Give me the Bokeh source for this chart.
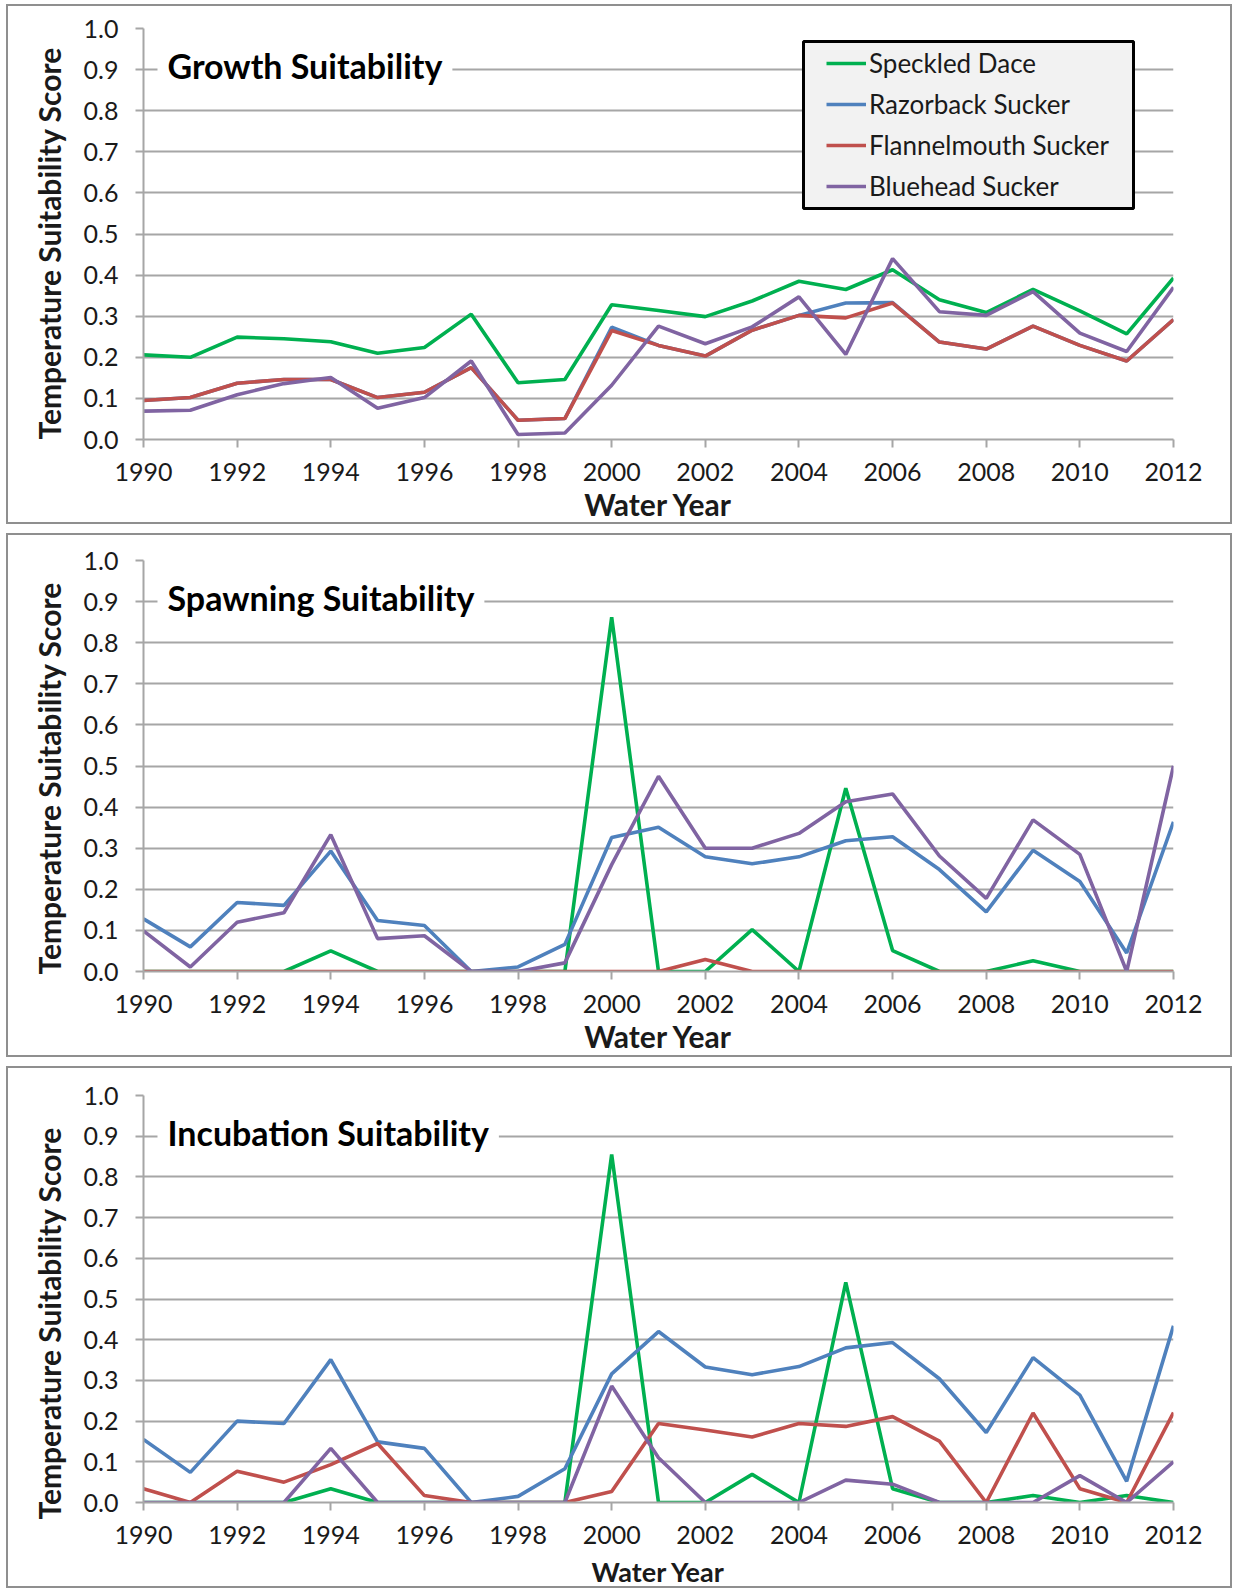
from bokeh.plotting import figure
from bokeh.models import (Range1d, FixedTicker, PrintfTickFormatter, Label, Legend, LegendItem,
                          BoxAnnotation, Title)
from bokeh.layouts import column
from bokeh.embed import file_html
from bokeh.resources import INLINE

years = list(range(1990, 2013))
x_ticks = list(range(1990, 2013, 2))
y_ticks = [0.0, 0.1, 0.2, 0.3, 0.4, 0.5, 0.6, 0.7, 0.8, 0.9, 1.0]

species = ["Speckled Dace", "Razorback Sucker", "Flannelmouth Sucker", "Bluehead Sucker"]
colors = ["#00B050", "#4F81BD", "#C0504D", "#8064A2"]

# Growth suitability
growth_dace = [0.206, 0.200, 0.249, 0.245, 0.238, 0.210, 0.224, 0.305, 0.138, 0.146,
               0.328, 0.314, 0.299, 0.337, 0.385, 0.365, 0.413, 0.340, 0.309, 0.365,
               0.313, 0.257, 0.393]
growth_razorback = [0.095, 0.102, 0.137, 0.146, 0.146, 0.102, 0.115, 0.175, 0.047, 0.051,
                    0.273, 0.229, 0.203, 0.266, 0.302, 0.332, 0.333, 0.237, 0.220, 0.276,
                    0.229, 0.191, 0.292]
growth_flannelmouth = [0.095, 0.102, 0.137, 0.146, 0.146, 0.102, 0.115, 0.175, 0.047, 0.051,
                       0.265, 0.229, 0.203, 0.266, 0.302, 0.296, 0.332, 0.237, 0.220, 0.276,
                       0.229, 0.191, 0.292]
growth_bluehead = [0.069, 0.071, 0.109, 0.136, 0.151, 0.076, 0.102, 0.191, 0.012, 0.016,
                   0.132, 0.276, 0.233, 0.274, 0.347, 0.207, 0.440, 0.311, 0.302, 0.360,
                   0.259, 0.214, 0.370]

# Spawning suitability
spawn_dace = [0.0, 0.0, 0.0, 0.0, 0.050, 0.0, 0.0, 0.0, 0.0, 0.0,
              0.862, 0.0, 0.0, 0.102, 0.0, 0.446, 0.051, 0.0, 0.0, 0.026,
              0.0, 0.0, 0.0]
spawn_razorback = [0.128, 0.060, 0.168, 0.161, 0.293, 0.124, 0.112, 0.0, 0.011, 0.066,
                   0.326, 0.351, 0.279, 0.262, 0.279, 0.318, 0.328, 0.248, 0.145, 0.295,
                   0.219, 0.045, 0.364]
spawn_flannelmouth = [0.0, 0.0, 0.0, 0.0, 0.0, 0.0, 0.0, 0.0, 0.0, 0.0,
                      0.0, 0.0, 0.029, 0.0, 0.0, 0.0, 0.0, 0.0, 0.0, 0.0,
                      0.0, 0.0, 0.0]
spawn_bluehead = [0.099, 0.011, 0.120, 0.143, 0.333, 0.080, 0.087, 0.0, 0.0, 0.021,
                  0.260, 0.475, 0.300, 0.300, 0.336, 0.413, 0.432, 0.281, 0.178, 0.369,
                  0.285, 0.0, 0.500]

# Incubation suitability
incub_dace = [0.0, 0.0, 0.0, 0.0, 0.034, 0.0, 0.0, 0.0, 0.0, 0.0,
              0.855, 0.0, 0.0, 0.069, 0.0, 0.541, 0.034, 0.0, 0.0, 0.017,
              0.0, 0.017, 0.0]
incub_razorback = [0.155, 0.074, 0.200, 0.194, 0.351, 0.149, 0.133, 0.0, 0.015, 0.083,
                   0.316, 0.420, 0.333, 0.314, 0.334, 0.380, 0.393, 0.304, 0.172, 0.356,
                   0.264, 0.052, 0.434]
incub_flannelmouth = [0.034, 0.0, 0.077, 0.050, 0.093, 0.145, 0.017, 0.0, 0.0, 0.0,
                      0.027, 0.194, 0.178, 0.161, 0.194, 0.187, 0.211, 0.151, 0.0, 0.220,
                      0.034, 0.0, 0.221]
incub_bluehead = [0.0, 0.0, 0.0, 0.0, 0.133, 0.0, 0.0, 0.0, 0.0, 0.0,
                  0.286, 0.110, 0.0, 0.0, 0.0, 0.055, 0.045, 0.0, 0.0, 0.0,
                  0.066, 0.0, 0.100]

panel_titles = ["Growth Suitability", "Spawning Suitability", "Incubation Suitability"]
y_titles = ["Temperature Suitability Score", "Temperature Suitability Score",
            "Temperature  Suitability Score"]
x_title = "Water Year"

panels = [
    [growth_dace, growth_razorback, growth_flannelmouth, growth_bluehead],
    [spawn_dace, spawn_razorback, spawn_flannelmouth, spawn_bluehead],
    [incub_dace, incub_razorback, incub_flannelmouth, incub_bluehead],
]

FONT = "Lato"
GRID = "#A6A6A6"
TXT = "#1a1a1a"

heights = [520, 524, 522]
borders_top = [22, 25, 27]
ytitle_offsets = [0, -3, -17]
xtitle_sizes = ["30px", "30px", "27px"]
xtitle_standoffs = [2, 2, 8]
FRAME_H = 411


def make_panel(i):
    p = figure(width=1226, height=heights[i], output_backend="svg", toolbar_location=None,
               x_range=Range1d(1990, 2012), y_range=Range1d(0, 1.0),
               min_border_left=135, min_border_right=61,
               min_border_top=borders_top[i],
               min_border_bottom=heights[i] - borders_top[i] - FRAME_H,
               background_fill_color="white", border_fill_color="white")
    p.outline_line_color = None
    p.styles = {"border": "2px solid #8f8f8f", "box-sizing": "border-box"}

    p.xaxis.ticker = FixedTicker(ticks=x_ticks)
    p.yaxis.ticker = FixedTicker(ticks=y_ticks)
    p.yaxis.formatter = PrintfTickFormatter(format="%.1f")
    for ax in (p.xaxis[0], p.yaxis[0]):
        ax.axis_line_color = GRID
        ax.axis_line_width = 2
        ax.major_tick_line_color = GRID
        ax.major_tick_line_width = 2
        ax.major_tick_in = 0
        ax.major_tick_out = 8
        ax.minor_tick_line_color = None
        ax.major_label_text_font = FONT
        ax.major_label_text_font_size = "25px"
        ax.major_label_text_color = TXT
        ax.axis_label_text_font = FONT
        ax.axis_label_text_font_style = "bold"
        ax.axis_label_text_color = TXT
    p.xaxis.major_label_standoff = 15
    p.yaxis.major_label_standoff = 17
    p.xaxis.axis_label = x_title
    p.xaxis.axis_label_text_font_size = xtitle_sizes[i]
    p.xaxis.axis_label_standoff = xtitle_standoffs[i]

    yt = Title(text=y_titles[i], align="left", offset=ytitle_offsets[i],
               text_font=FONT, text_font_style="bold", text_font_size="30px",
               text_color=TXT, standoff=28)
    p.add_layout(yt, "left")

    p.xgrid.grid_line_color = None
    p.ygrid.grid_line_color = GRID
    p.ygrid.grid_line_width = 2

    renderers = []
    for vals, col in zip(panels[i], colors):
        r = p.line(years, vals, line_color=col, line_width=3.6)
        renderers.append(r)

    title = Label(x=1990, y=0.9, x_offset=14, y_offset=4, text=panel_titles[i],
                  text_font=FONT, text_font_style="bold", text_font_size="34px",
                  text_color="black", text_baseline="middle",
                  background_fill_color="white", padding=10)
    p.add_layout(title)

    if i == 0:
        box = BoxAnnotation(left=660, right=990, top=398, bottom=231,
                            left_units="screen", right_units="screen",
                            top_units="screen", bottom_units="screen",
                            fill_color="#F2F2F2", fill_alpha=1.0,
                            line_color="black", line_width=3, line_alpha=1.0)
        p.add_layout(box)
        legend = Legend(items=[LegendItem(label=s, renderers=[r]) for s, r in zip(species, renderers)],
                        location=(683, 237))
        legend.label_text_font = FONT
        legend.label_text_font_size = "26px"
        legend.label_text_color = TXT
        legend.background_fill_alpha = 0.0
        legend.border_line_color = None
        legend.glyph_width = 40
        legend.glyph_height = 20
        legend.label_height = 30
        legend.label_standoff = 3
        legend.spacing = 9
        legend.padding = 0
        legend.margin = 0
        p.add_layout(legend)
    return p


figs = [make_panel(i) for i in range(3)]
layout = column(*figs, spacing=9, margin=(4, 0, 0, 6))
open("out.html", "w").write(file_html(layout, INLINE))
